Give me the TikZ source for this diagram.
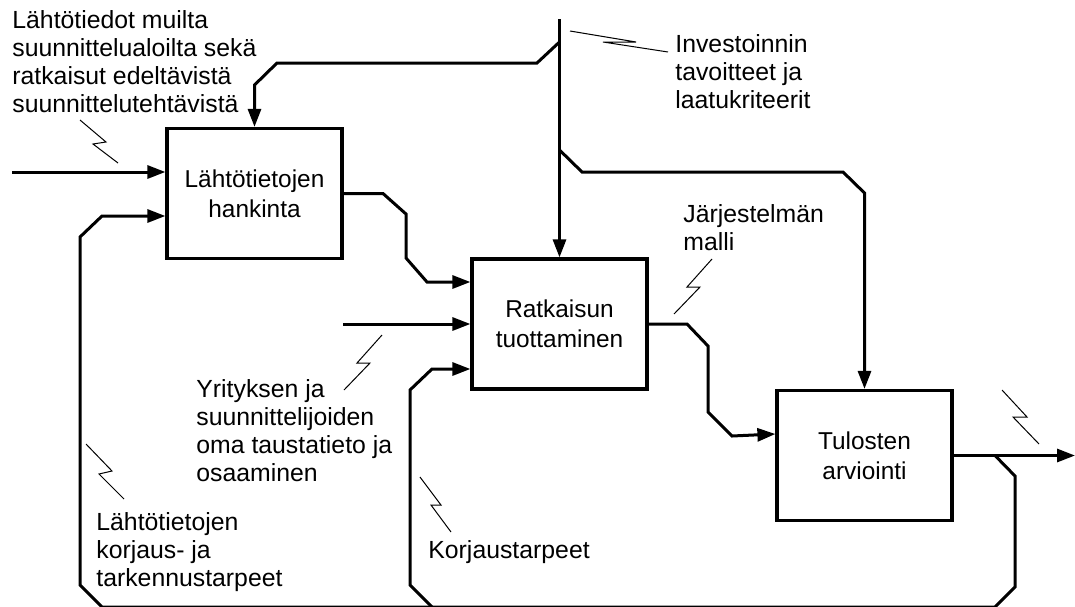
\documentclass[tikz,border=0pt]{standalone}
\usepackage{fontspec}
\setmainfont{Liberation Sans}
\usetikzlibrary{arrows.meta}
\begin{document}
\begin{tikzpicture}[x=0.5pt,y=-0.5pt,
  flow/.style={line width=1.5pt, line join=miter},
  arr/.style={flow, -{Triangle[length=9pt,width=6.5pt]}},
  proc/.style={draw, line width=1.6pt, minimum width=87.5pt, minimum height=65pt, inner sep=0pt, align=center, font=\fontsize{12.2}{14.8}\selectfont},
  lbl/.style={anchor=base west, inner sep=0pt, align=left, font=\fontsize{12.4}{14}\selectfont},
  squig/.style={line width=0.5pt, line join=miter}]
\useasboundingbox (0,0) rectangle (1075,606);
\clip (0,0) rectangle (1075,606);

\node[proc] (b1) at (254.5,193.5) {Lähtötietojen\\hankinta};
\node[proc] (b2) at (559.5,324) {Ratkaisun\\tuottaminen};
\node[proc] (b3) at (864.5,455.5) {Tulosten\\arviointi};

% top control line
\coordinate (top) at (559.5,19);
\coordinate (jl) at (559.5,42);
\coordinate (jr) at (559.5,150);
\draw[arr] (top) -- (b2.north);
\draw[arr] (jl) -- (537,63) -- (277,63) -- (b1.north |- 0,85) -- (b1.north);
\draw[arr] (jr) -- (582,172) -- (843,172) -- (b3.north |- 0,193) -- (b3.north);

% inputs
\coordinate (in1) at (12,172);
\coordinate (in2) at (343,324);
\draw[arr] (in1) -- (b1.west |- in1);
\draw[arr] (in2) -- (b2.west);

% process chain
\draw[arr] (b1.east) -- (383,193.5) -- (406,214) -- (406,258) -- (427,282) -- (b2.west |- 0,282);
\draw[arr] (b2.east) -- (687,324) -- (708,346) -- (708,412) -- (732,436) -- (b3.west |- 0,434);

% output
\coordinate (out) at (1075,455.5);
\coordinate (jf) at (995,455.5);
\draw[arr] (b3.east) -- (out);

% feedback loops
\draw[arr] (jf) -- (1015,476) -- (1015,587) -- (995,607) -- (102,607) -- (80,585) -- (80,237) -- (102,216) -- (b1.west |- 0,216);
\coordinate (jb) at (432,607);
\draw[arr] (jb) -- (410,585) -- (410,390) -- (432,369) -- (b2.west |- 0,369);

% squiggles
\draw[squig] (80,120) -- (106,142) -- (93,144) -- (118,163);
\draw[squig] (570,31) -- (636,42) -- (603,42) -- (668,52);
\draw[squig] (712,259) -- (687,287) -- (700,287) -- (674,314);
\draw[squig] (382,335) -- (357,363) -- (370,363) -- (344,390);
\draw[squig] (86,444) -- (112,471) -- (99,474) -- (124,499);
\draw[squig] (420,477) -- (441,505) -- (431,505) -- (451,532);
\draw[squig] (1002,390) -- (1027,417) -- (1013,417) -- (1039,444);

% labels (anchored at the baseline of the last line)
\node[lbl] (t1) at (12,112) {Lähtötiedot muilta\\suunnittelualoilta sekä\\ratkaisut edeltävistä\\suunnittelutehtävistä};
\node[lbl] (t2) at (675,108) {Investoinnin\\tavoitteet ja\\laatukriteerit};
\node[lbl] (t3) at (683,250) {Järjestelmän\\malli};
\node[lbl] (t4) at (196,481) {Yrityksen ja\\suunnittelijoiden\\oma taustatieto ja\\osaaminen};
\node[lbl] (t5) at (96,586) {Lähtötietojen\\korjaus- ja\\tarkennustarpeet};
\node[lbl] (t6) at (428,558) {Korjaustarpeet};
\end{tikzpicture}
\end{document}
